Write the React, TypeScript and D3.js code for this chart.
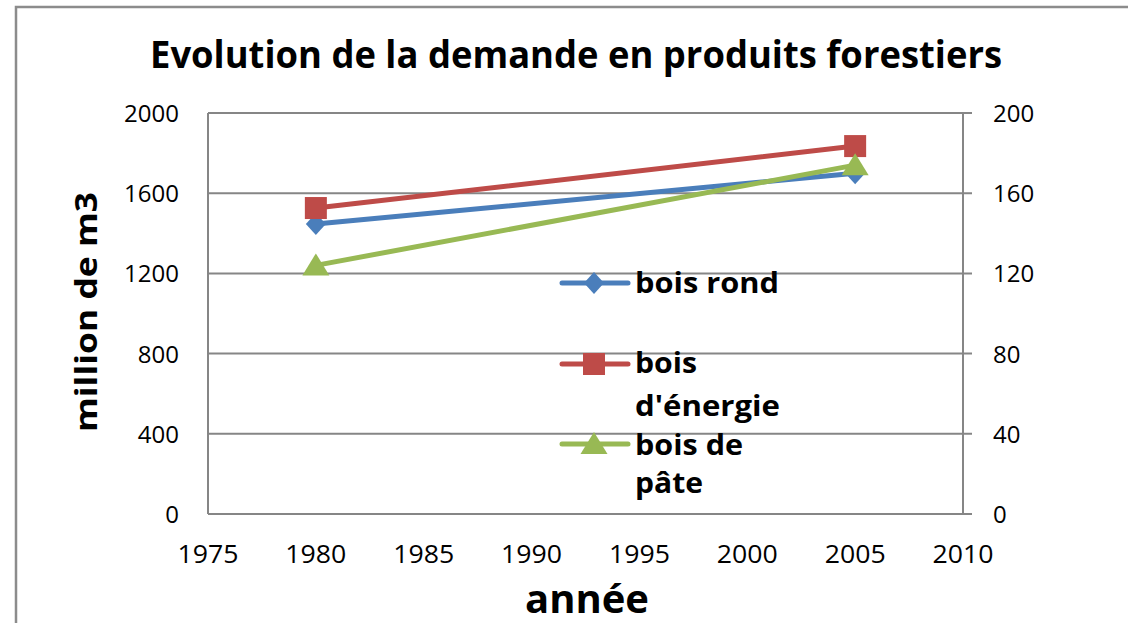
import React from "react";
import * as d3 from "d3";

const years = [1980, 2005];
const boisRond = [1446, 1700];
const boisEnergie = [1526, 1835];
const boisPate = [124, 174];
const xTicks = [1975, 1980, 1985, 1990, 1995, 2000, 2005, 2010];
const yLeftTicks = [0, 400, 800, 1200, 1600, 2000];
const yRightTicks = [0, 40, 80, 120, 160, 200];

const W = 1128;
const H = 623;
const M = { left: 208, right: 963, top: 113, bottom: 514 };
const FONT = "'Open Sans', 'DejaVu Sans', sans-serif";
const GRID = "#868686";

export default function App() {
  const x = d3.scaleLinear().domain([1975, 2010]).range([M.left, M.right]);
  const yL = d3.scaleLinear().domain([0, 2000]).range([M.bottom, M.top]);
  const yR = d3.scaleLinear().domain([0, 200]).range([M.bottom, M.top]);

  const lineL = d3
    .line<number>()
    .x((_, i) => x(years[i]))
    .y((d) => yL(d));
  const lineR = d3
    .line<number>()
    .x((_, i) => x(years[i]))
    .y((d) => yR(d));

  const blue = "#4A7EBB";
  const red = "#BE4B48";
  const green = "#98B954";

  const diamond = (cx: number, cy: number) =>
    `M${cx},${cy - 11}L${cx + 10},${cy}L${cx},${cy + 11}L${cx - 10},${cy}Z`;
  const tri = (cx: number, cy: number) =>
    `M${cx},${cy - 12}L${cx + 13.5},${cy + 10}L${cx - 13.5},${cy + 10}Z`;

  const legendX1 = 562;
  const legendX2 = 628;
  const legendMX = 594;
  const legendTX = 635;
  const legend = [
    { color: blue, shape: "diamond", y: 283, lines: ["bois rond"], ly: [293], lw: [144] },
    { color: red, shape: "square", y: 364, lines: ["bois", "d'énergie"], ly: [373, 416], lw: [62, 145] },
    { color: green, shape: "triangle", y: 444, lines: ["bois de", "pâte"], ly: [455, 493], lw: [108, 68] },
  ];

  const marker = (shape: string, cx: number, cy: number, color: string, key: string) => {
    if (shape === "diamond") return <path key={key} d={diamond(cx, cy)} fill={color} />;
    if (shape === "square")
      return <rect key={key} x={cx - 11} y={cy - 11} width={22} height={22} fill={color} />;
    return <path key={key} d={tri(cx, cy)} fill={color} />;
  };

  return (
    <svg width={W} height={H} style={{ position: "absolute", left: 0, top: 0 }}>
      <rect x={0} y={0} width={W} height={H} fill="#fff" />
      <path d={`M16,${H}L16,7L${W},7`} fill="none" stroke="#8c8c8c" strokeWidth={2.5} />

      <text
        x={576}
        y={68}
        textAnchor="middle"
        fontFamily={FONT}
        fontWeight="bold"
        fontSize={38}
        textLength={852}
        lengthAdjust="spacingAndGlyphs"
      >
        Evolution de la demande en produits forestiers
      </text>

      {yLeftTicks.map((t) => (
        <line key={"g" + t} x1={M.left} x2={M.right + 9} y1={yL(t)} y2={yL(t)} stroke={GRID} strokeWidth={2} />
      ))}
      <line x1={M.left} x2={M.left} y1={M.top} y2={M.bottom} stroke={GRID} strokeWidth={2} />
      <line x1={M.right} x2={M.right} y1={M.top} y2={M.bottom} stroke={GRID} strokeWidth={2} />

      {yLeftTicks.map((t) => (
        <text key={"l" + t} x={179} y={yL(t) + 9} textAnchor="end" fontFamily={FONT} fontSize={24} fill="#000">
          {t}
        </text>
      ))}
      {yRightTicks.map((t) => (
        <text key={"r" + t} x={993} y={yR(t) + 9} textAnchor="start" fontFamily={FONT} fontSize={24} fill="#000">
          {t}
        </text>
      ))}
      {xTicks.map((t) => (
        <text
          key={"x" + t}
          x={x(t)}
          y={563}
          textAnchor="middle"
          fontFamily={FONT}
          fontSize={25}
          textLength={61}
          lengthAdjust="spacingAndGlyphs"
          fill="#000"
        >
          {t}
        </text>
      ))}

      <text
        transform={`translate(97,312) rotate(-90)`}
        textAnchor="middle"
        fontFamily={FONT}
        fontWeight="bold"
        fontSize={31}
        textLength={240}
        lengthAdjust="spacingAndGlyphs"
      >
        million de m3
      </text>
      <text
        x={587}
        y={613}
        textAnchor="middle"
        fontFamily={FONT}
        fontWeight="bold"
        fontSize={40}
        textLength={124}
        lengthAdjust="spacingAndGlyphs"
      >
        année
      </text>

      <path d={lineL(boisRond) || ""} fill="none" stroke={blue} strokeWidth={5} strokeLinecap="round" />
      {boisRond.map((v, i) => marker("diamond", x(years[i]), yL(v), blue, "b" + i))}
      <path d={lineL(boisEnergie) || ""} fill="none" stroke={red} strokeWidth={5} strokeLinecap="round" />
      {boisEnergie.map((v, i) => marker("square", x(years[i]), yL(v), red, "r" + i))}
      <path d={lineR(boisPate) || ""} fill="none" stroke={green} strokeWidth={5} strokeLinecap="round" />
      {boisPate.map((v, i) => marker("triangle", x(years[i]), yR(v), green, "g" + i))}

      {legend.map((e, k) => (
        <g key={"lg" + k}>
          <line x1={legendX1} x2={legendX2} y1={e.y} y2={e.y} stroke={e.color} strokeWidth={5} strokeLinecap="round" />
          {marker(e.shape, legendMX, e.y, e.color, "lm" + k)}
          {e.lines.map((s, j) => (
            <text
              key={j}
              x={legendTX}
              y={e.ly[j]}
              fontFamily={FONT}
              fontWeight="bold"
              fontSize={29}
              textLength={e.lw[j]}
              lengthAdjust="spacingAndGlyphs"
              fill="#000"
            >
              {s}
            </text>
          ))}
        </g>
      ))}
    </svg>
  );
}
